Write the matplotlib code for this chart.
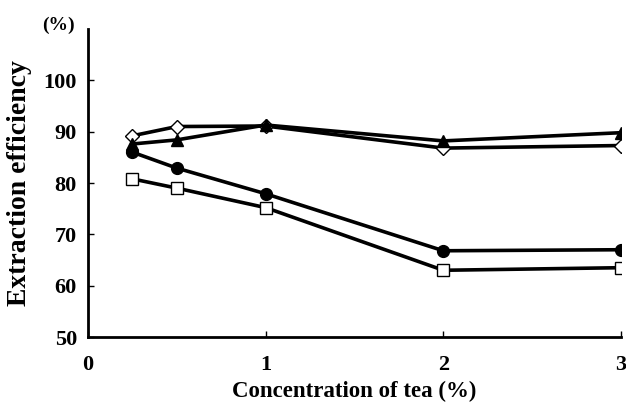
import matplotlib
matplotlib.use("Agg")
import matplotlib.pyplot as plt

x = [0.25, 0.5, 1, 2, 3]
diamond = [89.2, 91.0, 91.1, 86.8, 87.3]
triangle = [87.6, 88.4, 91.3, 88.2, 89.8]
circle = [86.0, 82.9, 77.9, 66.8, 67.0]
square = [80.8, 79.0, 75.2, 63.0, 63.5]

xticks = [0, 1, 2, 3]
yticks = [50, 60, 70, 80, 90, 100]

plt.rcParams['font.family'] = ['Liberation Serif', 'DejaVu Serif']
plt.rcParams['font.weight'] = 'bold'

fig = plt.figure(figsize=(6.26, 4.05), dpi=100)
ax = fig.add_axes([88/626, 1-337/405, (621-88)/626, (337-29)/405])

lw = 2.6
ax.plot(x, diamond, color='black', lw=lw, marker='D', ms=7, mfc='white', mec='black', mew=1.0, zorder=3)
ax.plot(x, triangle, color='black', lw=lw, marker='^', ms=9, mfc='black', mec='black', zorder=3)
ax.plot(x, circle, color='black', lw=lw, marker='o', ms=8.5, mfc='black', mec='black', zorder=3)
ax.plot(x, square, color='black', lw=lw, marker='s', ms=8.5, mfc='white', mec='black', mew=1.0, zorder=3)

ax.set_xlim(0, 3)
ax.set_ylim(50, 110)
ax.set_xticks(xticks)
ax.set_yticks(yticks)
ax.set_xticklabels([str(v) for v in xticks], fontsize=16, fontweight='bold')
ax.set_yticklabels([str(v) for v in yticks], fontsize=16, fontweight='bold')
ax.tick_params(axis='y', direction='in', length=4, width=1, pad=8)
ax.tick_params(axis='x', direction='in', length=4, width=1, pad=13)
ax.spines['top'].set_visible(False)
ax.spines['right'].set_visible(False)
ax.spines['left'].set_linewidth(2)
ax.spines['bottom'].set_linewidth(2)
ax.set_xlabel('Concentration of tea (%)', fontsize=16.5, fontweight='bold', labelpad=4)
ax.set_ylabel('Extraction efficiency', fontsize=20, fontweight='bold', labelpad=8)
fig.text(58/626, 1-25/405, '(%)', fontsize=14, fontweight='bold', ha='center', va='center')

fig.savefig('out.png', dpi=100)
